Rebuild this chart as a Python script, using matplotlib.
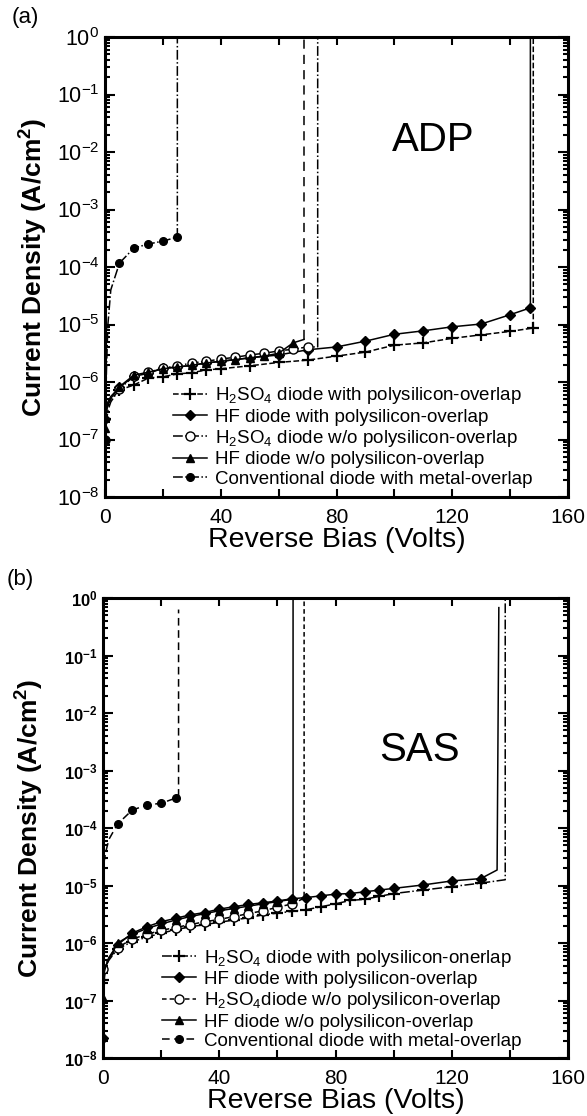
import numpy as np
import matplotlib
matplotlib.use("Agg")
import matplotlib.pyplot as plt
from matplotlib.ticker import FixedLocator, MultipleLocator, LogLocator, NullFormatter

plt.rcParams['font.family'] = ['Liberation Sans', 'DejaVu Sans']
plt.rcParams['mathtext.default'] = 'regular'

# ---------------- Panel (a) ADP data ----------------
a_plus_v = [0, 0.5, 1, 2, 5, 10, 15, 20, 25, 30, 35, 40, 50, 60, 70, 80, 90, 100, 110, 120, 130, 140, 148, 148]
a_plus_j = [2.3e-7, 3.2e-7, 4.0e-7, 5.0e-7, 7.2e-7, 8.9e-7, 1.17e-6, 1.23e-6, 1.38e-6, 1.45e-6, 1.62e-6, 1.70e-6,
            1.91e-6, 2.19e-6, 2.40e-6, 2.82e-6, 3.31e-6, 4.37e-6, 4.79e-6, 5.75e-6, 6.61e-6, 7.59e-6, 8.7e-6, 1.0]
a_dia_v = [0, 0.5, 1, 2, 5, 10, 15, 20, 25, 30, 35, 40, 50, 60, 70, 80, 90, 100, 110, 120, 130, 140, 147, 147]
a_dia_j = [2.3e-7, 3.5e-7, 4.5e-7, 5.6e-7, 8.1e-7, 1.26e-6, 1.41e-6, 1.74e-6, 1.82e-6, 1.95e-6, 2.14e-6, 2.29e-6,
           2.63e-6, 2.95e-6, 3.63e-6, 4.07e-6, 5.13e-6, 6.76e-6, 7.76e-6, 9.12e-6, 1.02e-5, 1.48e-5, 1.95e-5, 1.0]
a_oc_v = [0, 0.5, 1, 2, 5, 10, 15, 20, 25, 30, 35, 40, 45, 50, 55, 60, 65, 70, 73.5, 73.5]
a_oc_j = [1.0e-7, 2.0e-7, 3.2e-7, 4.5e-7, 7.6e-7, 1.26e-6, 1.48e-6, 1.74e-6, 1.91e-6, 2.14e-6, 2.29e-6, 2.51e-6,
          2.69e-6, 2.95e-6, 3.16e-6, 3.47e-6, 3.72e-6, 4.07e-6, 4.07e-6, 1.0]
a_tri_v = [0, 0.5, 1, 2, 5, 10, 15, 20, 25, 30, 35, 40, 45, 50, 55, 60, 65, 68.8, 68.8]
a_tri_j = [1.6e-7, 3.2e-7, 4.0e-7, 5.2e-7, 8.3e-7, 1.32e-6, 1.48e-6, 1.70e-6, 1.82e-6, 1.95e-6, 2.14e-6, 2.29e-6,
           2.45e-6, 2.63e-6, 2.82e-6, 3.16e-6, 4.79e-6, 5.5e-6, 1.0]
a_conv_v = [0, 0.5, 1, 2, 5, 10, 15, 20, 25, 25]
a_conv_j = [1.0e-7, 1.6e-6, 1.0e-5, 4.0e-5, 1.17e-4, 2.14e-4, 2.51e-4, 2.82e-4, 3.31e-4, 1.0]

# ---------------- Panel (b) SAS data ----------------
b_plus_v = [0, 0.5, 1, 2, 5, 10, 15, 20, 25, 30, 35, 40, 45, 50, 55, 60, 65, 70, 75, 80, 85, 90, 95, 100,
            110, 120, 130, 138.4, 138.4]
b_plus_j = [2.3e-7, 3.2e-7, 4.0e-7, 5.0e-7, 7.9e-7, 1.05e-6, 1.26e-6, 1.48e-6, 1.70e-6, 1.91e-6, 2.09e-6, 2.29e-6,
            2.51e-6, 2.75e-6, 3.09e-6, 3.31e-6, 3.55e-6, 3.80e-6, 4.27e-6, 4.79e-6, 5.50e-6, 5.75e-6, 6.46e-6,
            7.24e-6, 8.32e-6, 9.55e-6, 1.10e-5, 1.26e-5, 1.0]
b_dia_v = [0, 0.5, 1, 2, 5, 10, 15, 20, 25, 30, 35, 40, 45, 50, 55, 60, 65, 70, 75, 80, 85, 90, 95, 100,
           110, 120, 130, 135.6, 136.2]
b_dia_j = [2.2e-8, 2.5e-7, 4.0e-7, 5.6e-7, 9.3e-7, 1.48e-6, 1.91e-6, 2.34e-6, 2.69e-6, 3.09e-6, 3.39e-6, 3.89e-6,
           4.27e-6, 4.68e-6, 5.01e-6, 5.37e-6, 5.89e-6, 6.17e-6, 6.61e-6, 7.08e-6, 7.24e-6, 7.76e-6, 8.32e-6,
           8.91e-6, 1.02e-5, 1.20e-5, 1.32e-5, 1.86e-5, 0.68]
b_oc_v = [0, 0.5, 1, 2, 5, 10, 15, 20, 25, 30, 35, 40, 45, 50, 55, 60, 65, 69.2, 69.2]
b_oc_j = [3.6e-7, 4.0e-7, 4.5e-7, 5.2e-7, 8.3e-7, 1.17e-6, 1.41e-6, 1.66e-6, 1.86e-6, 2.09e-6, 2.34e-6, 2.57e-6,
          2.88e-6, 3.24e-6, 3.63e-6, 4.17e-6, 4.79e-6, 6.0e-6, 1.0]
b_tri_v = [0, 0.5, 1, 2, 5, 10, 15, 20, 25, 30, 35, 40, 45, 50, 55, 60, 65, 65.4, 65.4]
b_tri_j = [1.1e-7, 3.2e-7, 4.0e-7, 5.2e-7, 1.0e-6, 1.41e-6, 1.78e-6, 2.14e-6, 2.51e-6, 2.88e-6, 3.24e-6, 3.63e-6,
           3.98e-6, 4.37e-6, 4.79e-6, 5.25e-6, 5.75e-6, 6.0e-6, 1.0]
b_conv_v = [0.3, 1, 2, 5, 10, 15, 20, 25, 26, 26]
b_conv_j = [2.5e-5, 3.9e-5, 6.3e-5, 1.17e-4, 2.04e-4, 2.51e-4, 2.69e-4, 3.31e-4, 3.55e-4, 0.63]

ytick_vals = [1e0, 1e-1, 1e-2, 1e-3, 1e-4, 1e-5, 1e-6, 1e-7, 1e-8]
ytick_exps = [0, -1, -2, -3, -4, -5, -6, -7, -8]

a_labels = ['H$_2$SO$_4$ diode with polysilicon-overlap', 'HF diode with polysilicon-overlap',
            'H$_2$SO$_4$ diode w/o polysilicon-overlap', 'HF diode w/o polysilicon-overlap',
            'Conventional diode with metal-overlap']
b_labels = ['H$_2$SO$_4$ diode with polysilicon-onerlap', 'HF diode with polysilicon-overlap',
            'H$_2$SO$_4$diode w/o polysilicon-overlap', 'HF diode w/o polysilicon-overlap',
            'Conventional diode with metal-overlap']

fig = plt.figure(figsize=(5.87, 11.16), dpi=100)
axA = fig.add_axes([105/587, 1-497/1116, 463/587, 460/1116])
axB = fig.add_axes([103/587, 1-1058/1116, 465/587, 460/1116])


def mk(n, skip_start=(1, 2, 3), skip_end=1):
    return [i for i in range(n - skip_end) if i not in skip_start]


def style_axes(ax, bold_y, ylab_x):
    ax.set_yscale('log')
    ax.set_xlim(0, 160)
    ax.set_ylim(1e-8, 1)
    for s in ax.spines.values():
        s.set_linewidth(2.2)
    ax.xaxis.set_major_locator(MultipleLocator(40))
    ax.xaxis.set_minor_locator(MultipleLocator(20))
    ax.yaxis.set_major_locator(FixedLocator(ytick_vals))
    ax.yaxis.set_minor_locator(LogLocator(base=10, subs=np.arange(2, 10), numticks=20))
    ax.yaxis.set_minor_formatter(NullFormatter())
    ax.tick_params(which='both', direction='in', top=True, right=True, width=1.5)
    ax.tick_params(axis='x', which='both', length=6, labelsize=15, pad=8)
    ax.tick_params(axis='y', which='major', length=7)
    ax.tick_params(axis='y', which='minor', length=3.5)
    ax.set_yticks(ytick_vals)
    if bold_y:
        ax.set_yticklabels([r'$10^{%d}$' % e for e in ytick_exps], fontsize=12, fontweight='bold')
    else:
        ax.set_yticklabels([r'$10^{%d}$' % e for e in ytick_exps], fontsize=15.5)
    ax.tick_params(axis='y', which='major', pad=4)
    ax.set_xlabel('Reverse Bias (Volts)', fontsize=20.5)
    ax.xaxis.set_label_coords(0.5, -0.066)
    ax.set_ylabel('Current Density (A/cm$^2$)', fontsize=19, fontweight='bold')
    ax.yaxis.set_label_coords(ylab_x, 0.5)


leg_kw = dict(loc='lower left', frameon=False, fontsize=13.5, handlelength=1.8, handletextpad=0.45,
              labelspacing=0.12, borderpad=0.3)

# ---- Panel (a) ----
ms = 5.5
h1, = axA.plot(a_plus_v, a_plus_j, color='k', ls='--', lw=1.1, marker='+', ms=8, mew=1.6,
               markevery=mk(len(a_plus_v)), label=a_labels[0])
h2, = axA.plot(a_dia_v, a_dia_j, color='k', ls='-', lw=1.1, marker='D', ms=ms, mfc='k',
               markevery=mk(len(a_dia_v)), label=a_labels[1])
h3, = axA.plot(a_oc_v, a_oc_j, color='k', ls='-.', lw=1.1, marker='o', ms=ms + 1, mfc='white',
               markevery=mk(len(a_oc_v), skip_end=2), label=a_labels[2])
h4, = axA.plot(a_tri_v[:-1], a_tri_j[:-1], color='k', ls='-', lw=1.1, marker='^', ms=ms, mfc='k',
               markevery=mk(len(a_tri_v) - 1), label=a_labels[3])
axA.plot(a_tri_v[-2:], a_tri_j[-2:], color='k', ls=(0, (6, 4)), lw=1.1)
h5, = axA.plot(a_conv_v, a_conv_j, color='k', ls='-.', lw=1.1, marker='o', ms=ms, mfc='k',
               markevery=[0, 4, 5, 6, 7, 8], label=a_labels[4])
style_axes(axA, bold_y=False, ylab_x=-0.118)
axA.text(0.708, 0.776, 'ADP', transform=axA.transAxes, fontsize=29, ha='center', va='center')
axA.legend(handles=[h1, h2, h3, h4, h5], bbox_to_anchor=(0.115, -0.012), **leg_kw)
fig.text(25/587, 1-18/1116, '(a)', fontsize=16, ha='center', va='center')

# ---- Panel (b) ----
g1, = axB.plot(b_plus_v, b_plus_j, color='k', ls='-.', lw=1.1, marker='+', ms=8, mew=1.6,
               markevery=mk(len(b_plus_v), skip_end=2), label=b_labels[0])
g2, = axB.plot(b_dia_v, b_dia_j, color='k', ls='-', lw=1.1, marker='D', ms=ms, mfc='k',
               markevery=mk(len(b_dia_v), skip_end=2), label=b_labels[1])
g3, = axB.plot(b_oc_v, b_oc_j, color='k', ls=(0, (3, 2)), lw=1.1, marker='o', ms=ms + 1, mfc='white',
               markevery=mk(len(b_oc_v), skip_end=2), label=b_labels[2])
g4, = axB.plot(b_tri_v, b_tri_j, color='k', ls='-', lw=1.1, marker='^', ms=ms, mfc='k',
               markevery=mk(len(b_tri_v), skip_end=2), label=b_labels[3])
g5, = axB.plot(b_conv_v, b_conv_j, color='k', ls=(0, (5, 3)), lw=1.1, marker='o', ms=ms, mfc='k',
               markevery=[3, 4, 5, 6, 7], label=b_labels[4])
style_axes(axB, bold_y=True, ylab_x=-0.122)
axB.text(0.68, 0.67, 'SAS', transform=axB.transAxes, fontsize=29, ha='center', va='center')
axB.legend(handles=[g1, g2, g3, g4, g5], bbox_to_anchor=(0.095, -0.015), **leg_kw)
fig.text(20/587, 1-580/1116, '(b)', fontsize=16, ha='center', va='center')

fig.savefig('out.png', dpi=100)
